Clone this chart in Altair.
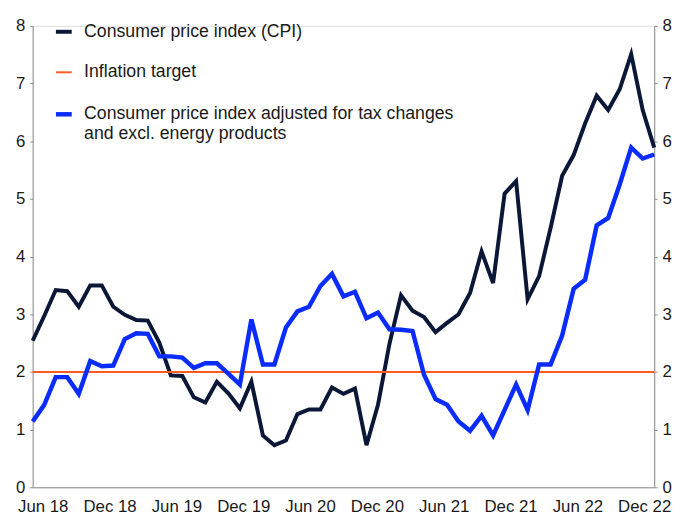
import altair as alt
import pandas as pd

# ---- data (monthly, Jun 2018 - Dec 2022) ----
tick_labels = ["Jun 18", "Dec 18", "Jun 19", "Dec 19", "Jun 20",
               "Dec 20", "Jun 21", "Dec 21", "Jun 22", "Dec 22"]

cpi = [2.54, 2.97, 3.42, 3.40, 3.13, 3.50, 3.50, 3.13, 2.99, 2.90,
       2.89, 2.51, 1.94, 1.93, 1.56, 1.47, 1.83, 1.63, 1.37, 1.83,
       0.90, 0.73, 0.81, 1.27, 1.35, 1.35, 1.73, 1.62, 1.71, 0.73,
       1.43, 2.49, 3.33, 3.06, 2.95, 2.69, 2.85, 3.00, 3.37, 4.09,
       3.54, 5.09, 5.31, 3.26, 3.66, 4.50, 5.40, 5.76, 6.31, 6.79,
       6.54, 6.90, 7.51, 6.54, 5.89]

cpi_ate = [1.14, 1.43, 1.91, 1.91, 1.62, 2.19, 2.10, 2.11, 2.57, 2.67,
           2.66, 2.27, 2.27, 2.25, 2.07, 2.15, 2.15, 1.97, 1.78, 2.91,
           2.13, 2.13, 2.77, 3.05, 3.13, 3.49, 3.70, 3.31, 3.39, 2.93,
           3.03, 2.74, 2.73, 2.71, 1.95, 1.53, 1.43, 1.14, 0.98, 1.24,
           0.90, 1.34, 1.78, 1.34, 2.13, 2.13, 2.63, 3.44, 3.60, 4.54,
           4.67, 5.25, 5.89, 5.70, 5.77]

target_value = [2.0]

series_names = ["Consumer price index (CPI)",
                "Inflation target",
                "Consumer price index adjusted for tax changes and excl. energy products"]
series_colors = ["#0b1736", "#ff5a1f", "#0a2cff"]
series_widths = [4, 2, 4.5]

y_ticks = list(range(0, 9))

# ---- tables ----
months = list(range(len(cpi)))
df_cpi = pd.DataFrame({"month": months, "value": cpi, "series": series_names[0]})
df_ate = pd.DataFrame({"month": months, "value": cpi_ate, "series": series_names[2]})
df_target = pd.DataFrame({"value": target_value, "series": series_names[1]})
df_ticks = pd.DataFrame({"label": tick_labels})

FONT = "Liberation Sans"
AXIS_GREY = "#8c8c8c"
TEXT = "#1a1a1a"

legend = alt.Legend(
    title=None, orient="none", legendX=21, legendY=-4,
    symbolType="stroke", symbolSize=256,
    labelFont=FONT, labelFontSize=17.9, labelColor=TEXT,
    labelLimit=600, labelOffset=10, rowPadding=23,
    labelExpr=("datum.label == '" + series_names[2] + "' ? "
               "['Consumer price index adjusted for tax changes', "
               "'and excl. energy products'] : datum.label"),
)

color = alt.Color("series:N",
                  scale=alt.Scale(domain=series_names, range=series_colors),
                  legend=legend)
stroke_w = alt.StrokeWidth("series:N",
                           scale=alt.Scale(type="ordinal", domain=series_names,
                                           range=series_widths),
                           legend=legend)

x_scale = alt.Scale(domain=[0, len(cpi) - 1], nice=False, zero=False)
y_scale = alt.Scale(domain=[0, 8], nice=False)


def y_axis(orient):
    return alt.Axis(orient=orient, values=y_ticks, title=None, grid=False,
                    tickSize=3, labelPadding=5,
                    domainColor=AXIS_GREY, tickColor=AXIS_GREY,
                    labelFont=FONT, labelFontSize=17, labelColor=TEXT)


cpi_line = alt.Chart(df_cpi).mark_line().encode(
    x=alt.X("month:Q", scale=x_scale, axis=None),
    y=alt.Y("value:Q", scale=y_scale, axis=y_axis("left")),
    color=color, strokeWidth=stroke_w,
)

target_rule = alt.Chart(df_target).mark_rule().encode(
    y=alt.Y("value:Q", scale=y_scale, axis=y_axis("right")),
    color=color, strokeWidth=stroke_w,
)

ate_line = alt.Chart(df_ate).mark_line().encode(
    x=alt.X("month:Q", scale=x_scale, axis=None),
    y=alt.Y("value:Q", scale=y_scale, axis=None),
    color=color, strokeWidth=stroke_w,
)

tick_layer = alt.Chart(df_ticks).mark_point(opacity=0).encode(
    x=alt.X("label:N", sort=tick_labels,
            scale=alt.Scale(type="point", padding=0.15),
            axis=alt.Axis(orient="bottom", title=None, grid=False,
                          ticks=False, tickSize=0, labelAngle=0, labelPadding=11,
                          domainColor=AXIS_GREY,
                          labelFont=FONT, labelFontSize=17, labelColor=TEXT)),
)

chart = alt.layer(cpi_line, target_rule, ate_line, tick_layer).resolve_scale(
    x="independent", y="independent"
).properties(
    width=629, height=467,
    autosize=alt.AutoSizeParams(type="none"),
    padding={"left": 25, "top": 15, "right": 18, "bottom": 28},
).configure_view(stroke=None).configure(font=FONT)

chart.save("out.html", embed_options={"renderer": "svg", "actions": False})
